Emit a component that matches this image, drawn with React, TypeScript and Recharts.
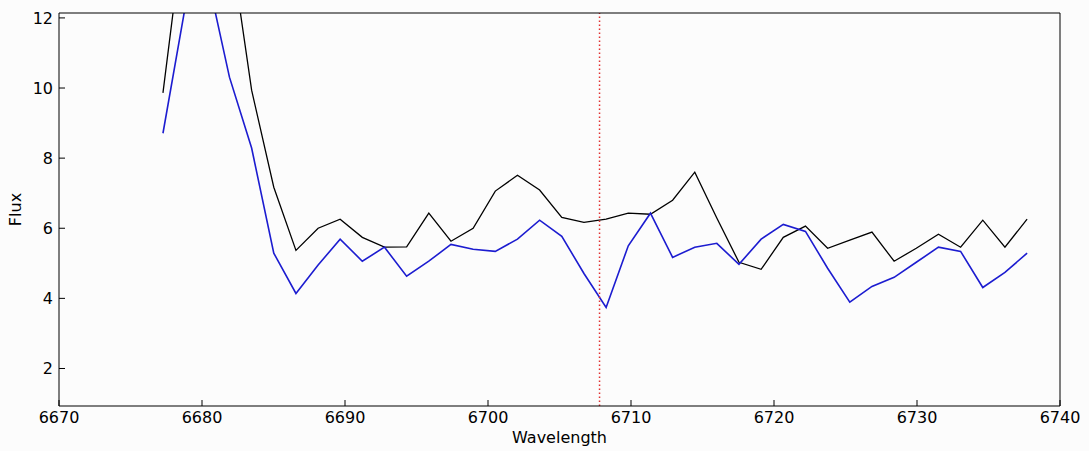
import { LineChart, Line, XAxis, YAxis, ReferenceLine } from "recharts";

const wavelength = [
  6677.27, 6678.82, 6680.37, 6681.92, 6683.47, 6685.02, 6686.57, 6688.12, 6689.66, 6691.21,
  6692.76, 6694.31, 6695.86, 6697.41, 6698.96, 6700.51, 6702.06, 6703.61, 6705.16, 6706.71,
  6708.26, 6709.81, 6711.36, 6712.91, 6714.46, 6716.0, 6717.55, 6719.1, 6720.65, 6722.2,
  6723.75, 6725.3, 6726.85, 6728.4, 6729.95, 6731.5, 6733.05, 6734.6, 6736.15, 6737.7,
];

const fluxBlack = [
  9.86, 14.9, 16.0, 14.3, 9.94, 7.17, 5.37, 6.0, 6.26, 5.74,
  5.46, 5.47, 6.43, 5.63, 6.0, 7.06, 7.51, 7.09, 6.31, 6.17,
  6.26, 6.43, 6.4, 6.8, 7.6, 6.29, 5.03, 4.83, 5.74, 6.06,
  5.43, 5.66, 5.89, 5.06, 5.43, 5.83, 5.46, 6.23, 5.46, 6.26,
];

const fluxBlue = [
  8.71, 12.3, 13.2, 10.31, 8.29, 5.29, 4.14, 4.95, 5.69, 5.06,
  5.46, 4.63, 5.06, 5.54, 5.4, 5.34, 5.69, 6.23, 5.77, 4.71,
  3.74, 5.5, 6.43, 5.17, 5.46, 5.57, 4.97, 5.69, 6.11, 5.91,
  4.86, 3.89, 4.34, 4.6, 5.03, 5.46, 5.34, 4.31, 4.74, 5.29,
];

const xTicks = [6670, 6680, 6690, 6700, 6710, 6720, 6730, 6740];
const yTicks = [2, 4, 6, 8, 10, 12];
const lineMarker = 6707.8;

const data = wavelength.map((w, i) => ({ w, black: fluxBlack[i], blue: fluxBlue[i] }));

const tickStyle = { fontSize: 16, fill: "#000" };

export default function App() {
  return (
    <div style={{ position: "fixed", left: 0, top: 0, width: 1089, height: 451, background: "#fcfcfc" }}>
      <LineChart
        width={1089}
        height={451}
        data={data}
        margin={{ top: 12, right: 28, left: 0, bottom: 0 }}
        style={{ fontFamily: "DejaVu Sans" }}
      >
        <XAxis
          dataKey="w"
          type="number"
          domain={[6670, 6740]}
          ticks={xTicks}
          interval={0}
          height={45}
          stroke="#000"
          tickSize={-6}
          tickMargin={12}
          tick={tickStyle}
          label={{ value: "Wavelength", position: "insideBottom", offset: 8, style: { fontSize: 16, fill: "#000" } }}
        />
        <XAxis
          xAxisId="top"
          orientation="top"
          type="number"
          domain={[6670, 6740]}
          ticks={xTicks}
          interval={0}
          height={1}
          stroke="#000"
          tickSize={-6}
          tick={false}
        />
        <YAxis
          type="number"
          domain={[0.93, 12.14]}
          allowDataOverflow
          ticks={yTicks}
          interval={0}
          width={59}
          stroke="#000"
          tickSize={-6}
          tickMargin={12}
          tick={tickStyle}
          label={{ value: "Flux", angle: -90, position: "insideLeft", offset: 15, style: { fontSize: 16, fill: "#000", textAnchor: "middle" } }}
        />
        <YAxis
          yAxisId="right"
          orientation="right"
          type="number"
          domain={[0.93, 12.14]}
          allowDataOverflow
          ticks={yTicks}
          interval={0}
          width={1}
          stroke="#000"
          tickSize={-6}
          tick={false}
        />
        <Line
          dataKey="black"
          stroke="#000"
          strokeWidth={1.3}
          dot={false}
          isAnimationActive={false}
        />
        <Line
          dataKey="blue"
          stroke="#1c1cd0"
          strokeWidth={1.6}
          dot={false}
          isAnimationActive={false}
        />
        <ReferenceLine x={lineMarker} stroke="#e03030" strokeWidth={1.5} strokeDasharray="1.5 2.5" />
      </LineChart>
    </div>
  );
}
